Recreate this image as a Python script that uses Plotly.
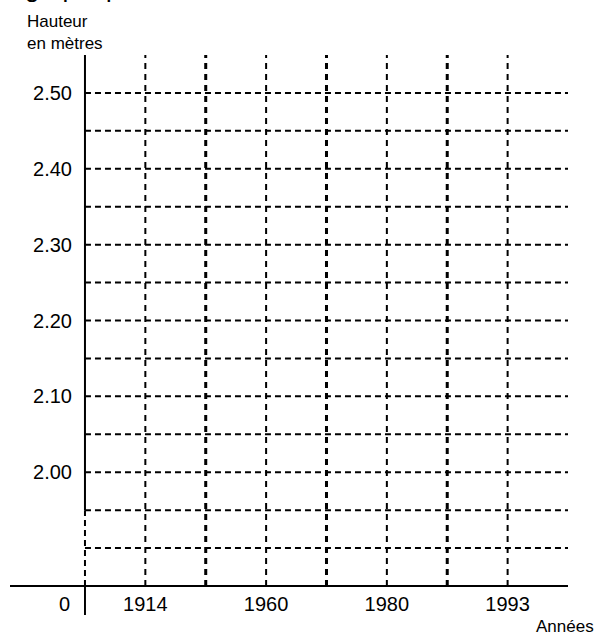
import plotly.graph_objects as go

# ---- data ----
YEAR_LABELS = ["1914", "1960", "1980", "1993"]
YEAR_POS = [1, 3, 5, 7]                 # column positions of the year labels
THIN_V = [1, 3, 5, 7]                    # thin dashed verticals
THICK_V = [2, 4, 6]                      # thick dashed verticals
H_LEVELS = [1.90, 1.95, 2.00, 2.05, 2.10, 2.15, 2.20, 2.25, 2.30, 2.35, 2.40, 2.45, 2.50]
Y_TICKS = [2.00, 2.10, 2.20, 2.30, 2.40, 2.50]
Y_TICK_TEXT = ["2.00", "2.10", "2.20", "2.30", "2.40", "2.50"]
ORIGIN = 1.85      # the broken-axis origin (labelled 0)
BREAK_TOP = 1.95   # the y axis is dashed between ORIGIN and BREAK_TOP
X_MAX = 8
X_MIN = -1.2417
Y_MIN = 1.8118
Y_MAX = 2.55

fig = go.Figure()

# horizontal dashed grid lines
hx, hy = [], []
for v in H_LEVELS:
    hx += [0, X_MAX, None]
    hy += [v, v, None]
fig.add_trace(go.Scatter(x=hx, y=hy, mode="lines",
                         line=dict(color="black", width=2, dash="6px,4px"),
                         hoverinfo="skip", showlegend=False))

# thin vertical dashed lines
vx, vy = [], []
for p in THIN_V:
    vx += [p, p, None]
    vy += [ORIGIN, Y_MAX, None]
fig.add_trace(go.Scatter(x=vx, y=vy, mode="lines",
                         line=dict(color="black", width=2, dash="6px,5px"),
                         hoverinfo="skip", showlegend=False))

# thick vertical dashed lines
tx, ty = [], []
for p in THICK_V:
    tx += [p, p, None]
    ty += [ORIGIN, Y_MAX, None]
fig.add_trace(go.Scatter(x=tx, y=ty, mode="lines",
                         line=dict(color="black", width=3, dash="6px,5px"),
                         hoverinfo="skip", showlegend=False))

# y axis: solid parts and dashed break
fig.add_trace(go.Scatter(x=[0, 0, None, 0, 0], y=[BREAK_TOP, Y_MAX, None, Y_MIN, ORIGIN],
                         mode="lines", line=dict(color="black", width=2),
                         hoverinfo="skip", showlegend=False))
fig.add_trace(go.Scatter(x=[0, 0], y=[ORIGIN, BREAK_TOP], mode="lines",
                         line=dict(color="black", width=2, dash="6px,4px"),
                         hoverinfo="skip", showlegend=False))

yaxis_pos = (0 - X_MIN) / (X_MAX - X_MIN)
xaxis_pos = (ORIGIN - Y_MIN) / (Y_MAX - Y_MIN)

fig.update_layout(
    width=596, height=637,
    margin=dict(l=10, r=28, t=55, b=22),
    paper_bgcolor="white", plot_bgcolor="white",
    font=dict(family="Liberation Sans, Arial, sans-serif", color="black"),
    xaxis=dict(range=[X_MIN, X_MAX], anchor="free", position=xaxis_pos,
               showgrid=False, zeroline=False, showline=True, linecolor="black", linewidth=2,
               tickmode="array", tickvals=YEAR_POS, ticktext=YEAR_LABELS,
               ticks="", ticklabelstandoff=0, tickfont=dict(size=20)),
    yaxis=dict(range=[Y_MIN, Y_MAX], anchor="free", position=yaxis_pos,
               showgrid=False, zeroline=False, showline=False,
               tickmode="array", tickvals=Y_TICKS, ticktext=Y_TICK_TEXT,
               ticks="", ticklabelstandoff=13, tickfont=dict(size=20)),
    annotations=[
        dict(text="Hauteur<br>en mètres", xref="paper", yref="paper", x=(25 - 10) / 558, y=1,
             xanchor="left", yanchor="bottom", align="left", showarrow=False,
             font=dict(size=17), yshift=0),
        dict(text="Années", xref="paper", yref="paper", x=1, y=0, xanchor="left",
             yanchor="top", showarrow=False, font=dict(size=17), xshift=-34, yshift=0),
        dict(text="0", xref="x", yref="y", x=0, y=ORIGIN, xanchor="right", yanchor="top",
             showarrow=False, font=dict(size=20), xshift=-13, yshift=-5),
        dict(text="graphique", xref="paper", yref="paper", x=(23 - 10) / 558, y=1,
             xanchor="left", yanchor="bottom", showarrow=False, font=dict(size=26),
             yshift=50),
    ],
)

fig.write_html("out.html", config={"displayModeBar": False},
               post_script="document.body.style.margin='0';")
